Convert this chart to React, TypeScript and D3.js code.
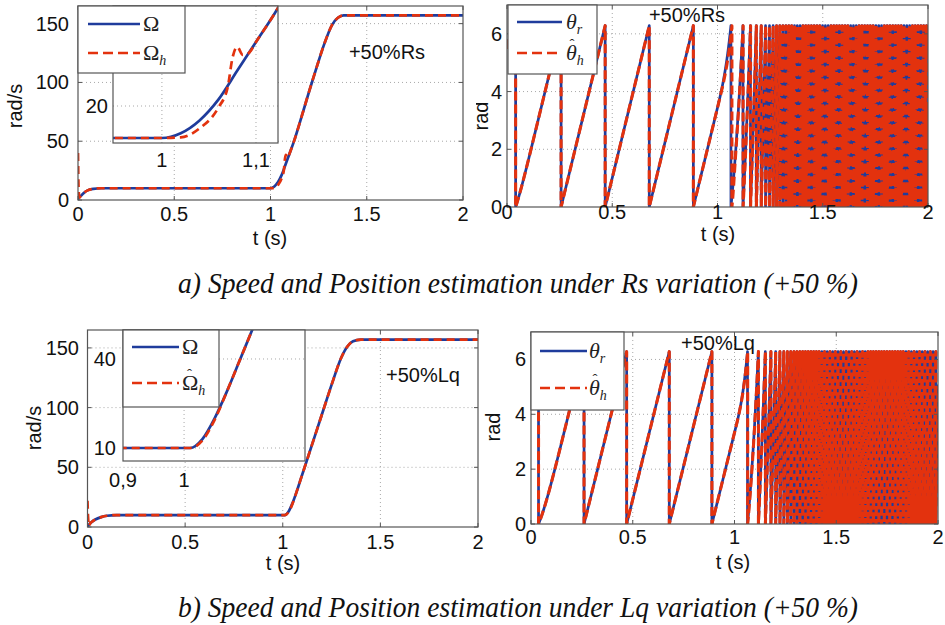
import React from 'react';
import * as d3 from 'd3';

// ---------- data ----------
const POLE_PAIRS = 3;
const TWO_PI = 2 * Math.PI;

// (a) Rs variation: rotor speed Ω and estimate Ω_h (rad/s)
const rsTime = [0, 0.005, 0.015, 0.03, 0.05, 0.08, 0.12, 1.0, 1.02, 1.04, 1.06, 1.08, 1.1, 1.12, 1.16, 1.2, 1.24, 1.28, 1.32, 1.35, 1.38, 1.42, 2.0];
const rsOmega = [0, 3, 3.5, 6, 8.2, 9.5, 10, 10, 11.5, 15.5, 22, 31, 40, 49, 70, 92, 113, 133, 149, 155, 157, 157, 157];
const rsHatTime = [0, 0.003, 0.008, 0.015, 0.03, 0.05, 0.08, 0.12, 1.0, 1.02, 1.04, 1.06, 1.07, 1.075, 1.08, 1.086, 1.092, 1.1, 1.12, 1.16, 1.2, 1.24, 1.28, 1.32, 1.35, 1.38, 1.42, 2.0];
const rsOmegaHat = [40, 10, 2, 3.5, 6, 8.2, 9.5, 10, 10, 10.2, 13, 19.5, 26, 35, 38.5, 36, 36.5, 40, 49, 70, 92, 113, 133, 149, 155, 157, 157, 157];

// (b) Lq variation
const lqTime = [0, 0.01, 0.02, 0.04, 0.07, 0.1, 0.15, 1.0, 1.01, 1.03, 1.05, 1.07, 1.09, 1.11, 1.15, 1.2, 1.25, 1.3, 1.33, 1.36, 1.4, 2.0];
const lqOmega = [0, 2.5, 4, 6.3, 8.3, 9.4, 10, 10, 10, 13, 20, 29, 39, 49, 69, 94, 119, 142, 151, 155.5, 157, 157];
const lqHatTime = [0, 0.003, 0.008, 0.015, 0.02, 0.04, 0.07, 0.1, 0.15, 1.0, 1.01, 1.03, 1.05, 1.07, 1.09, 1.11, 1.15, 1.2, 1.25, 1.3, 1.33, 1.36, 1.4, 2.0];
const lqOmegaHat = [22, 8, 1, 3.5, 4, 6.3, 8.3, 9.4, 10, 10, 10, 12.5, 19.5, 29, 39, 49, 69, 94, 119, 142, 151, 155.5, 157, 157];

// time of the first position wrap
const rsFirstWrap = 0.041;
const lqFirstWrap = 0.037;

const timeTicks = [0, 0.5, 1, 1.5, 2];
const timeTickLabels = ['0', '0.5', '1', '1.5', '2'];
const speedTicks = [0, 50, 100, 150];
const angleTicks = [0, 2, 4, 6];
const rsInsetXTicks = [1, 1.1];
const rsInsetXLabels = ['1', '1,1'];
const rsInsetYTicks = [20];
const lqInsetXTicks = [0.9, 1];
const lqInsetXLabels = ['0,9', '1'];
const lqInsetYTicks = [10, 40];

const captionA = 'a) Speed and Position estimation under Rs variation (+50 %)';
const captionB = 'b) Speed and Position estimation under Lq variation (+50 %)';

// ---------- helpers ----------
const BLUE = '#1f3c9c';
const RED = '#e3320e';
const GRID = '#a8a8a8';
const FRAME = '#555';
const SANS = "'Liberation Sans', Arial, sans-serif";
const SERIF = "'Liberation Serif', 'Times New Roman', serif";
const FS = 20;

type P = [number, number];
const zip = (t: number[], v: number[]): P[] => t.map((ti, i) => [ti, v[i]]);

function interp(t: number[], v: number[], q: number) {
  if (q <= t[0]) return v[0];
  for (let i = 1; i < t.length; i++) {
    if (q <= t[i]) {
      const f = (q - t[i - 1]) / (t[i] - t[i - 1]);
      return v[i - 1] + f * (v[i] - v[i - 1]);
    }
  }
  return v[v.length - 1];
}

// electrical angle = pole pairs × ∫Ω dt, wrapped to [0, 2π)
function cumAngle(t: number[], v: number[], dt: number, tEnd: number) {
  const out: P[] = [[0, 0]];
  let a = 0;
  let prev = interp(t, v, 0);
  for (let s = dt; s <= tEnd + 1e-9; s += dt) {
    const cur = interp(t, v, s);
    a += POLE_PAIRS * 0.5 * (prev + cur) * dt;
    out.push([s, a]);
    prev = cur;
  }
  return out;
}

function angleAt(cum: P[], tq: number) {
  for (let i = 1; i < cum.length; i++) if (cum[i][0] >= tq) {
    const f = (tq - cum[i - 1][0]) / (cum[i][0] - cum[i - 1][0]);
    return cum[i - 1][1] + f * (cum[i][1] - cum[i - 1][1]);
  }
  return cum[cum.length - 1][1];
}

function wrapped(cum: P[], theta0: number): P[] {
  const pts: P[] = [];
  let prevT = cum[0][0];
  let prevA = cum[0][1] + theta0;
  pts.push([prevT, prevA % TWO_PI]);
  for (let i = 1; i < cum.length; i++) {
    const [ct, ca0] = cum[i];
    const ca = ca0 + theta0;
    const kp = Math.floor(prevA / TWO_PI);
    const kc = Math.floor(ca / TWO_PI);
    if (kc > kp) {
      const L = kc * TWO_PI;
      const tw = prevT + ((L - prevA) / (ca - prevA)) * (ct - prevT);
      pts.push([tw, TWO_PI]);
      pts.push([tw, 0]);
    }
    pts.push([ct, ca - kc * TWO_PI]);
    prevT = ct;
    prevA = ca;
  }
  return pts;
}

function thetaPair(t: number[], v: number[], th: number[], vh: number[], firstWrap: number) {
  const dt = 0.0004;
  const c = cumAngle(t, v, dt, 2);
  const ch = cumAngle(th, vh, dt, 2);
  const theta0 = TWO_PI - angleAt(c, firstWrap);
  const theta0h = TWO_PI - angleAt(ch, firstWrap);
  return [wrapped(c, theta0), wrapped(ch, theta0h)];
}

const [rsTheta, rsThetaHat] = thetaPair(rsTime, rsOmega, rsHatTime, rsOmegaHat, rsFirstWrap);
const [lqTheta, lqThetaHat] = thetaPair(lqTime, lqOmega, lqHatTime, lqOmegaHat, lqFirstWrap);

// ---------- drawing pieces ----------
type Box = { x0: number; x1: number; y0: number; y1: number };

function Grid({ box, xs, ys, sx, sy }: { box: Box; xs: number[]; ys: number[]; sx: any; sy: any }) {
  return (
    <g stroke={GRID} strokeWidth={1} strokeDasharray="1,3">
      {xs.filter(v => sx(v) > box.x0 + 1 && sx(v) < box.x1 - 1).map(v => (
        <line key={'gx' + v} x1={sx(v)} x2={sx(v)} y1={box.y0} y2={box.y1} />
      ))}
      {ys.filter(v => sy(v) > box.y0 + 1 && sy(v) < box.y1 - 1).map(v => (
        <line key={'gy' + v} x1={box.x0} x2={box.x1} y1={sy(v)} y2={sy(v)} />
      ))}
    </g>
  );
}

function Ticks({ box, xs, ys, sx, sy }: { box: Box; xs: number[]; ys: number[]; sx: any; sy: any }) {
  return (
    <g stroke={FRAME} strokeWidth={1}>
      {xs.map(v => (
        <g key={'tx' + v}>
          <line x1={sx(v)} x2={sx(v)} y1={box.y1} y2={box.y1 - 4} />
          <line x1={sx(v)} x2={sx(v)} y1={box.y0} y2={box.y0 + 4} />
        </g>
      ))}
      {ys.map(v => (
        <g key={'ty' + v}>
          <line x1={box.x0} x2={box.x0 + 4} y1={sy(v)} y2={sy(v)} />
          <line x1={box.x1} x2={box.x1 - 4} y1={sy(v)} y2={sy(v)} />
        </g>
      ))}
    </g>
  );
}

function Frame({ box }: { box: Box }) {
  return <rect x={box.x0} y={box.y0} width={box.x1 - box.x0} height={box.y1 - box.y0} fill="none" stroke={FRAME} strokeWidth={1.2} />;
}

function Pair({ blue, red, sx, sy, clip, curve, wide }: { blue: P[]; red: P[]; sx: any; sy: any; clip: string; curve?: any; wide?: boolean }) {
  const line = d3.line<P>().x(d => sx(d[0])).y(d => sy(d[1]));
  if (curve) line.curve(curve);
  return (
    <g clipPath={`url(#${clip})`} fill="none">
      <path d={line(blue) || ''} stroke={BLUE} strokeWidth={2.7} strokeLinejoin="round" />
      <path d={line(red) || ''} stroke={RED} strokeWidth={wide ? 3.1 : 2.7} strokeDasharray={wide ? '9,4' : '8,5'} strokeLinejoin="round" />
    </g>
  );
}

function LegendBox({ box, lx0, lx1, yB, yR, tx, kind }: { box: Box; lx0: number; lx1: number; yB: number; yR: number; tx: number; kind: string }) {
  const isTheta = kind === 'theta';
  const sym = isTheta ? 'θ' : 'Ω';
  const hatRed = kind !== 'omegaPlain';
  const italic = isTheta ? 'italic' : 'normal';
  const hatX = tx + (isTheta ? 3.5 : 5);
  return (
    <g>
      <rect x={box.x0} y={box.y0} width={box.x1 - box.x0} height={box.y1 - box.y0} fill="#fff" stroke={FRAME} strokeWidth={1.2} />
      <line x1={lx0} x2={lx1} y1={yB} y2={yB} stroke={BLUE} strokeWidth={2.7} />
      <line x1={lx0} x2={lx1} y1={yR} y2={yR} stroke={RED} strokeWidth={2.7} strokeDasharray="10,5" />
      <text x={tx} y={yB + 7} fontFamily={SERIF} fontSize={22} fontStyle={italic} fill="#222">
        {sym}
        {isTheta && <tspan fontSize={14} dy={5}>r</tspan>}
      </text>
      <text x={tx} y={yR + 7} fontFamily={SERIF} fontSize={22} fontStyle={italic} fill="#222">
        {sym}
        <tspan fontSize={14} fontStyle="italic" dy={5}>h</tspan>
        {hatRed && <tspan x={hatX} y={yR - 4} fontSize={15} fontStyle="normal">ˆ</tspan>}
      </text>
    </g>
  );
}

type SpeedCfg = {
  id: string; box: Box; blue: P[]; red: P[];
  yLabelX: number; xLabelY: number; xTitle: [number, number]; yTitle: [number, number];
  annot: [string, number, number];
  inset: Box; insetX: [number, number]; insetY: [number, number];
  insetXTicks: number[]; insetXLabels: string[]; insetYTicks: number[]; insetYLabelX: number; insetXLabelY: number;
  legend: Box; lx0: number; lx1: number; yB: number; yR: number; tx: number; legendKind: string;
};

function SpeedPanel(c: SpeedCfg) {
  const sx = d3.scaleLinear().domain([0, 2]).range([c.box.x0, c.box.x1]);
  const sy = d3.scaleLinear().domain([0, 165]).range([c.box.y1, c.box.y0]);
  const ix = d3.scaleLinear().domain(c.insetX).range([c.inset.x0, c.inset.x1]);
  const iy = d3.scaleLinear().domain(c.insetY).range([c.inset.y1, c.inset.y0]);
  return (
    <g>
      <defs>
        <clipPath id={c.id + 'm'}><rect x={c.box.x0} y={c.box.y0} width={c.box.x1 - c.box.x0} height={c.box.y1 - c.box.y0} /></clipPath>
        <clipPath id={c.id + 'i'}><rect x={c.inset.x0} y={c.inset.y0} width={c.inset.x1 - c.inset.x0} height={c.inset.y1 - c.inset.y0} /></clipPath>
      </defs>
      <Grid box={c.box} xs={timeTicks} ys={speedTicks} sx={sx} sy={sy} />
      <Pair blue={c.blue} red={c.red} sx={sx} sy={sy} clip={c.id + 'm'} curve={d3.curveMonotoneX} />
      <Ticks box={c.box} xs={timeTicks} ys={speedTicks} sx={sx} sy={sy} />
      <Frame box={c.box} />
      <g fontFamily={SANS} fontSize={FS} fill="#111">
        {speedTicks.map(v => (
          <text key={'yl' + v} x={c.yLabelX} y={sy(v)} textAnchor="end" dominantBaseline="central">{v}</text>
        ))}
        {timeTicks.map((v, i) => (
          <text key={'xl' + v} x={sx(v)} y={c.xLabelY} textAnchor="middle" dominantBaseline="central">{timeTickLabels[i]}</text>
        ))}
        <text x={c.xTitle[0]} y={c.xTitle[1]} textAnchor="middle" dominantBaseline="central">t (s)</text>
        <text transform={`translate(${c.yTitle[0]},${c.yTitle[1]}) rotate(-90)`} textAnchor="middle" dominantBaseline="central">rad/s</text>
        <text x={c.annot[1]} y={c.annot[2]} textAnchor="middle" dominantBaseline="central">{c.annot[0]}</text>
      </g>
      {/* inset */}
      <rect x={c.inset.x0} y={c.inset.y0} width={c.inset.x1 - c.inset.x0} height={c.inset.y1 - c.inset.y0} fill="#fff" />
      <Grid box={c.inset} xs={c.insetXTicks} ys={c.insetYTicks} sx={ix} sy={iy} />
      <Pair blue={c.blue} red={c.red} sx={ix} sy={iy} clip={c.id + 'i'} curve={d3.curveMonotoneX} />
      <Frame box={c.inset} />
      <g fontFamily={SANS} fontSize={FS} fill="#111">
        {c.insetYTicks.map(v => (
          <text key={'iyl' + v} x={c.insetYLabelX} y={iy(v)} textAnchor="end" dominantBaseline="central">{v}</text>
        ))}
        {c.insetXTicks.map((v, i) => (
          <text key={'ixl' + v} x={ix(v)} y={c.insetXLabelY} textAnchor="middle" dominantBaseline="central">{c.insetXLabels[i]}</text>
        ))}
      </g>
      <LegendBox box={c.legend} lx0={c.lx0} lx1={c.lx1} yB={c.yB} yR={c.yR} tx={c.tx} kind={c.legendKind} />
    </g>
  );
}

type AngleCfg = {
  id: string; box: Box; blue: P[]; red: P[];
  yLabelX: number; xLabelY: number; xTitle: [number, number]; yTitle: [number, number];
  annot: [string, number, number];
  legend: Box; lx0: number; lx1: number; yB: number; yR: number; tx: number; clipLeft: number;
};

function AnglePanel(c: AngleCfg) {
  const sx = d3.scaleLinear().domain([0, 2]).range([c.box.x0, c.box.x1]);
  const sy = d3.scaleLinear().domain([0, 7]).range([c.box.y1, c.box.y0]);
  return (
    <g>
      <defs>
        <clipPath id={c.id + 'm'}><rect x={c.box.x0} y={c.box.y0} width={c.box.x1 - c.box.x0} height={c.box.y1 - c.box.y0} /></clipPath>
        <clipPath id={c.id + 'l'}><rect x={c.clipLeft} y={c.box.y0} width={200} height={c.box.y1 - c.box.y0} /></clipPath>
      </defs>
      <Grid box={c.box} xs={timeTicks} ys={angleTicks} sx={sx} sy={sy} />
      <Pair blue={c.blue} red={c.red} sx={sx} sy={sy} clip={c.id + 'm'} wide />
      <Ticks box={c.box} xs={timeTicks} ys={angleTicks} sx={sx} sy={sy} />
      <Frame box={c.box} />
      <g fontFamily={SANS} fontSize={FS} fill="#111">
        {angleTicks.map(v => (
          <text key={'yl' + v} x={c.yLabelX} y={sy(v)} textAnchor="end" dominantBaseline="central">{v}</text>
        ))}
        {timeTicks.map((v, i) => (
          <text key={'xl' + v} x={sx(v)} y={c.xLabelY} textAnchor="middle" dominantBaseline="central">{timeTickLabels[i]}</text>
        ))}
        <text x={c.xTitle[0]} y={c.xTitle[1]} textAnchor="middle" dominantBaseline="central">t (s)</text>
        <g clipPath={`url(#${c.id + 'l'})`}>
          <text transform={`translate(${c.yTitle[0]},${c.yTitle[1]}) rotate(-90)`} textAnchor="middle" dominantBaseline="central">rad</text>
        </g>
        <text x={c.annot[1]} y={c.annot[2]} textAnchor="middle" dominantBaseline="central">{c.annot[0]}</text>
      </g>
      <LegendBox box={c.legend} lx0={c.lx0} lx1={c.lx1} yB={c.yB} yR={c.yR} tx={c.tx} kind="theta" />
    </g>
  );
}

export default function App() {
  return (
    <svg width={945} height={625} viewBox="0 0 945 625" style={{ position: 'absolute', left: 0, top: 0, background: '#fff' }}>
      <rect x={0} y={0} width={945} height={625} fill="#fff" />
      <SpeedPanel
        id="sa" box={{ x0: 78, x1: 463, y0: 6, y1: 200 }} blue={zip(rsTime, rsOmega)} red={zip(rsHatTime, rsOmegaHat)}
        yLabelX={69} xLabelY={214} xTitle={[270, 238]} yTitle={[15, 106]} annot={['+50%Rs', 387, 52]}
        inset={{ x0: 113, x1: 278, y0: 6, y1: 143 }} insetX={[0.948, 1.1234]} insetY={[8.44, 51.25]}
        insetXTicks={rsInsetXTicks} insetXLabels={rsInsetXLabels} insetYTicks={rsInsetYTicks} insetYLabelX={108} insetXLabelY={160}
        legend={{ x0: 78, x1: 185, y0: 6, y1: 73 }} lx0={88} lx1={140} yB={24} yR={53} tx={143} legendKind="omegaPlain"
      />
      <AnglePanel
        id="pa" box={{ x0: 507, x1: 928, y0: 5, y1: 207 }} blue={rsTheta} red={rsThetaHat}
        yLabelX={502} xLabelY={212} xTitle={[718, 234]} yTitle={[481, 116]} annot={['+50%Rs', 687, 15]}
        legend={{ x0: 508, x1: 597, y0: 5, y1: 74 }} lx0={517} lx1={562} yB={22} yR={53} tx={566} clipLeft={476}
      />
      <SpeedPanel
        id="sb" box={{ x0: 87.5, x1: 478, y0: 330, y1: 527 }} blue={zip(lqTime, lqOmega)} red={zip(lqHatTime, lqOmegaHat)}
        yLabelX={79} xLabelY={542} xTitle={[283, 563]} yTitle={[34, 428]} annot={['+50%Lq', 423, 375]}
        inset={{ x0: 123, x1: 305, y0: 330, y1: 461 }} insetX={[0.9, 1.198]} insetY={[5.62, 49.77]}
        insetXTicks={lqInsetXTicks} insetXLabels={lqInsetXLabels} insetYTicks={lqInsetYTicks} insetYLabelX={116} insetXLabelY={480}
        legend={{ x0: 123, x1: 219, y0: 330, y1: 407 }} lx0={132} lx1={179} yB={347} yR={383} tx={182} legendKind="omegaHat"
      />
      <AnglePanel
        id="pb" box={{ x0: 531, x1: 938, y0: 332, y1: 524 }} blue={lqTheta} red={lqThetaHat}
        yLabelX={526} xLabelY={537} xTitle={[733, 562]} yTitle={[493, 427]} annot={['+50%Lq', 718, 343]}
        legend={{ x0: 531, x1: 624, y0: 332, y1: 410 }} lx0={540} lx1={587} yB={351} yR={388} tx={589} clipLeft={480}
      />
      <text x={178} y={293} fontFamily={SERIF} fontStyle="italic" fontSize={29} fill="#111" textLength={680} lengthAdjust="spacingAndGlyphs">{captionA}</text>
      <text x={178} y={617} fontFamily={SERIF} fontStyle="italic" fontSize={29} fill="#111" textLength={680} lengthAdjust="spacingAndGlyphs">{captionB}</text>
    </svg>
  );
}
